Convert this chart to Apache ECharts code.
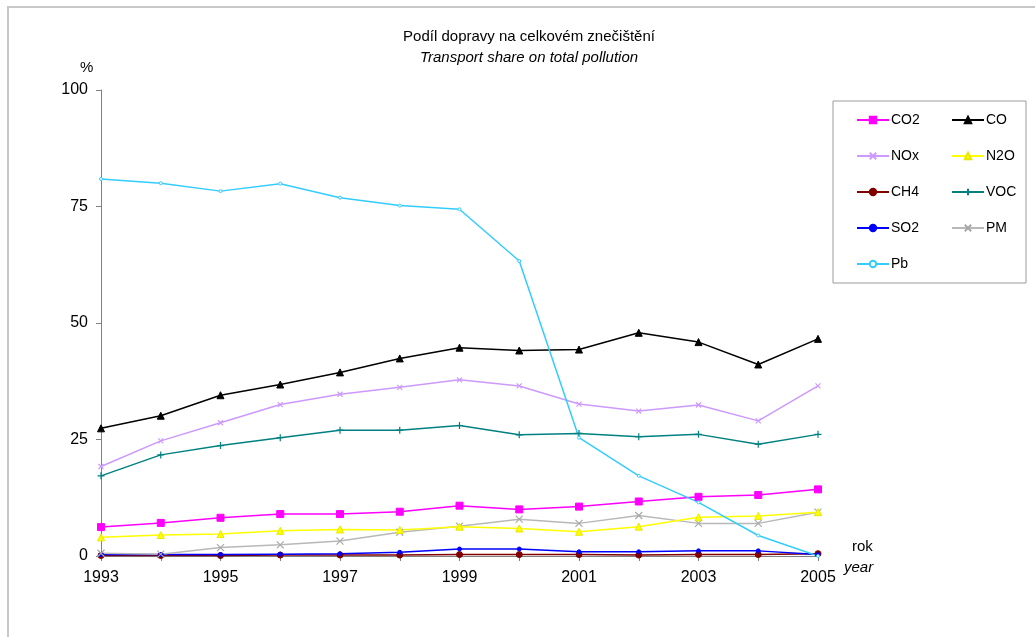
<!DOCTYPE html>
<html>
<head>
<meta charset="utf-8">
<script src="https://cdn.jsdelivr.net/npm/echarts@6/dist/echarts.min.js"></script>
<style>
  html, body { margin: 0; padding: 0; background: #fff; }
  #chart { width: 1035px; height: 637px; }
</style>
</head>
<body>
<div id="chart"></div>
<script>
// Years on the horizontal axis
const years = ['1993','1994','1995','1996','1997','1998','1999','2000','2001','2002','2003','2004','2005'];

// Transport share of each pollutant, in %
const co2 = [6.2, 7.1, 8.2, 9.0, 9.0, 9.5, 10.8, 10.0, 10.6, 11.7, 12.7, 13.1, 14.3];
const co  = [27.4, 30.1, 34.5, 36.8, 39.4, 42.4, 44.7, 44.1, 44.3, 47.9, 45.9, 41.1, 46.6];
const nox = [19.2, 24.7, 28.6, 32.5, 34.7, 36.2, 37.8, 36.5, 32.6, 31.1, 32.4, 29.0, 36.5];
const n2o = [4.0, 4.5, 4.7, 5.4, 5.7, 5.6, 6.3, 5.9, 5.2, 6.3, 8.3, 8.6, 9.4];
const ch4 = [0.1, 0.1, 0.1, 0.2, 0.2, 0.2, 0.3, 0.3, 0.3, 0.2, 0.3, 0.3, 0.5];
const voc = [17.2, 21.7, 23.7, 25.4, 27.0, 27.0, 28.0, 26.0, 26.3, 25.6, 26.1, 24.0, 26.1];
const so2 = [0.3, 0.3, 0.3, 0.4, 0.5, 0.8, 1.5, 1.5, 0.9, 0.9, 1.1, 1.1, 0.3];
const pm  = [0.6, 0.4, 1.8, 2.4, 3.2, 5.1, 6.4, 7.9, 7.0, 8.7, 7.0, 7.0, 9.4];
const pb  = [80.9, 80.0, 78.3, 79.9, 76.9, 75.2, 74.4, 63.3, 25.4, 17.2, 11.5, 4.4, 0.0];

const yTicks = [0, 25, 50, 75, 100];

const XMARK = 'path://M0,0L10,10M10,0L0,10';
const PLUS = 'path://M5,0L5,10M0,5L10,5';
const FONT = 'Liberation Sans';

function line(name, data, color, symbol, size, extra) {
  return Object.assign({
    name: name,
    type: 'line',
    data: data,
    symbol: symbol,
    symbolSize: size,
    showSymbol: true,
    lineStyle: { color: color, width: 1.5 },
    itemStyle: { color: color, borderColor: color, borderWidth: 1 },
    emphasis: { disabled: true },
    animation: false,
    z: 3
  }, extra || {});
}

const strokeStyle = (c) => ({ color: 'transparent', borderColor: c, borderWidth: 1.2 });

const series = [
  line('CH4', ch4, '#800000', 'circle', 6),
  line('SO2', so2, '#0000FF', 'circle', 4),
  line('PM', pm, '#B8B8B8', XMARK, 7, { itemStyle: strokeStyle('#A8A8A8') }),
  line('N2O', n2o, '#FFFF00', 'triangle', 7, { itemStyle: { color: '#FFFF00', borderColor: '#E8E800', borderWidth: 1 } }),
  line('CO2', co2, '#FF00FF', 'rect', 7),
  line('VOC', voc, '#008080', PLUS, 7, { itemStyle: strokeStyle('#008080') }),
  line('NOx', nox, '#CC99FF', XMARK, 5, { itemStyle: strokeStyle('#CC99FF') }),
  line('CO', co, '#000000', 'triangle', 7),
  line('Pb', pb, '#33CCFF', 'circle', 3, { itemStyle: { color: '#ffffff', borderColor: '#33CCFF', borderWidth: 1 } })
];

const legendText = { fontFamily: FONT, fontSize: 14, color: '#000', padding: [0, 0, 0, -3] };
const legendBase = {
  orient: 'vertical', top: 108, itemGap: 22,
  itemWidth: 32, itemHeight: 8, textStyle: legendText,
  selectedMode: false
};

const chart = echarts.init(document.getElementById('chart'), null, { renderer: 'canvas' });
chart.setOption({
  backgroundColor: '#ffffff',
  animation: false,
  title: {
    text: 'Podíl dopravy na celkovém znečištění',
    subtext: 'Transport share on total pollution',
    left: 524,
    textAlign: 'center',
    top: 24,
    itemGap: 6,
    textStyle: { fontFamily: FONT, fontSize: 15, fontWeight: 'normal', color: '#000' },
    subtextStyle: { fontFamily: FONT, fontSize: 15, fontStyle: 'italic', color: '#000' }
  },
  graphic: [
    { type: 'rect', shape: { x: 8, y: 7, width: 1040, height: 640 }, style: { fill: 'none', stroke: '#C8C8C8', lineWidth: 2 }, silent: true },
    { type: 'rect', shape: { x: 833, y: 101, width: 193, height: 182 }, style: { fill: '#fff', stroke: '#9A9A9A', lineWidth: 1 }, z: 0, silent: true },
    { type: 'text', left: 80, top: 60, style: { text: '%', font: '15px "Liberation Sans"', fill: '#000' } },
    { type: 'text', left: 852, top: 539, style: { text: 'rok', font: '15px "Liberation Sans"', fill: '#000' } },
    { type: 'text', left: 844, top: 560, style: { text: 'year', font: 'italic 15px "Liberation Sans"', fill: '#000' } }
  ],
  legend: [
    Object.assign({ data: ['CO2', 'NOx', 'CH4', 'SO2', 'Pb'], left: 851 }, legendBase),
    Object.assign({ data: ['CO', 'N2O', 'VOC', 'PM'], left: 946 }, legendBase)
  ],
  grid: { left: 101, right: 217, top: 90, bottom: 81, containLabel: false },
  xAxis: {
    type: 'category',
    data: years,
    boundaryGap: false,
    axisLine: { lineStyle: { color: '#808080', width: 1 } },
    axisTick: { show: true, interval: 0, length: 5, lineStyle: { color: '#808080' } },
    axisLabel: { interval: 1, margin: 14, fontFamily: FONT, fontSize: 16, color: '#000' },
    splitLine: { show: false }
  },
  yAxis: {
    type: 'value',
    min: yTicks[0],
    max: yTicks[yTicks.length - 1],
    interval: 25,
    axisLine: { show: true, lineStyle: { color: '#808080', width: 1 } },
    axisTick: { show: true, length: 5, lineStyle: { color: '#808080' } },
    axisLabel: { margin: 13, fontFamily: FONT, fontSize: 16, color: '#000' },
    splitLine: { show: false }
  },
  series: series
});
</script>
</body>
</html>
